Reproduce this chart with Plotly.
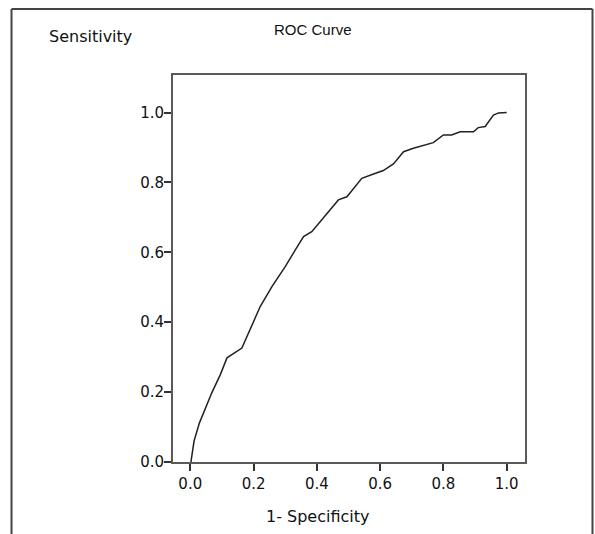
import plotly.graph_objects as go

# ROC curve points
fpr = [0.002, 0.012, 0.029, 0.068, 0.095, 0.116, 0.163, 0.221, 0.258, 0.300, 0.332,
       0.358, 0.384, 0.442, 0.468, 0.495, 0.542, 0.579, 0.610, 0.642, 0.674,
       0.705, 0.768, 0.800, 0.826, 0.853, 0.895, 0.910, 0.932, 0.958, 0.974, 1.000]
tpr = [0.000, 0.060, 0.112, 0.198, 0.250, 0.298, 0.326, 0.445, 0.502, 0.559, 0.607,
       0.645, 0.659, 0.721, 0.750, 0.759, 0.812, 0.824, 0.834, 0.853, 0.888,
       0.898, 0.914, 0.936, 0.936, 0.945, 0.945, 0.957, 0.960, 0.993, 0.999, 1.000]

x_ticks = [0.0, 0.2, 0.4, 0.6, 0.8, 1.0]
y_ticks = [0.0, 0.2, 0.4, 0.6, 0.8, 1.0]
x_tick_labels = ["0.0", "0.2", "0.4", "0.6", "0.8", "1.0"]
y_tick_labels = ["0.0", "0.2", "0.4", "0.6", "0.8", "1.0"]

title_text = "ROC Curve"
y_title = "Sensitivity"
x_title = "1- Specificity"

FONT = "DejaVu Sans, Arial, sans-serif"
AXIS_COLOR = "#5a5a5a"
TEXT_COLOR = "#111111"

fig = go.Figure()
fig.add_trace(go.Scatter(x=fpr, y=tpr, mode="lines",
                         line=dict(color="#222222", width=1.5),
                         showlegend=False, hoverinfo="skip"))

W, H = 595, 534
ml, mr, mt, mb = 173, 70, 75, 72
pw, ph = W - ml - mr, H - mt - mb

def px_x(p):
    return (p - ml) / pw

def px_y(p):
    return (H - mb - p) / ph

fig.update_layout(
    width=W, height=H,
    margin=dict(l=ml, r=mr, t=mt, b=mb, pad=0),
    paper_bgcolor="white", plot_bgcolor="white",
    font=dict(family=FONT, color=TEXT_COLOR),
    xaxis=dict(range=[-0.0546, 1.0578], tickvals=x_ticks, ticktext=x_tick_labels,
               ticks="outside", ticklen=7, tickwidth=1.5, tickcolor="#333333",
               tickfont=dict(family=FONT, size=15, color=TEXT_COLOR),
               showline=True, linecolor=AXIS_COLOR, linewidth=2, mirror=True,
               showgrid=False, zeroline=False, fixedrange=True),
    yaxis=dict(range=[0, 1.1075], tickvals=y_ticks, ticktext=y_tick_labels,
               ticks="outside", ticklen=7, tickwidth=1.5, tickcolor="#333333",
               ticklabelstandoff=-3,
               tickfont=dict(family=FONT, size=15, color=TEXT_COLOR),
               showline=True, linecolor=AXIS_COLOR, linewidth=2, mirror=True,
               showgrid=False, zeroline=False, fixedrange=True),
    annotations=[
        dict(text=title_text, x=px_x(313), y=px_y(29.5), xref="paper", yref="paper",
             xanchor="center", yanchor="middle", showarrow=False,
             font=dict(family="Liberation Sans, Arial, sans-serif", size=15, color=TEXT_COLOR)),
        dict(text=y_title, x=px_x(90.5), y=px_y(36), xref="paper", yref="paper",
             xanchor="center", yanchor="middle", showarrow=False,
             font=dict(family=FONT, size=16, color=TEXT_COLOR)),
        dict(text=x_title, x=px_x(318), y=px_y(516), xref="paper", yref="paper",
             xanchor="center", yanchor="middle", showarrow=False,
             font=dict(family=FONT, size=16, color=TEXT_COLOR)),
    ],
    shapes=[
        dict(type="line", xref="paper", yref="paper", x0=px_x(11.5), x1=px_x(11.5),
             y0=px_y(9), y1=px_y(540), line=dict(color="#444444", width=2)),
        dict(type="line", xref="paper", yref="paper", x0=px_x(11.5), x1=px_x(592.5),
             y0=px_y(9), y1=px_y(9), line=dict(color="#444444", width=2)),
        dict(type="line", xref="paper", yref="paper", x0=px_x(592.5), x1=px_x(592.5),
             y0=px_y(9), y1=px_y(540), line=dict(color="#444444", width=2)),
    ],
)

fig.write_html("out.html", config={"displayModeBar": False},
               post_script="document.body.style.margin='0';")
